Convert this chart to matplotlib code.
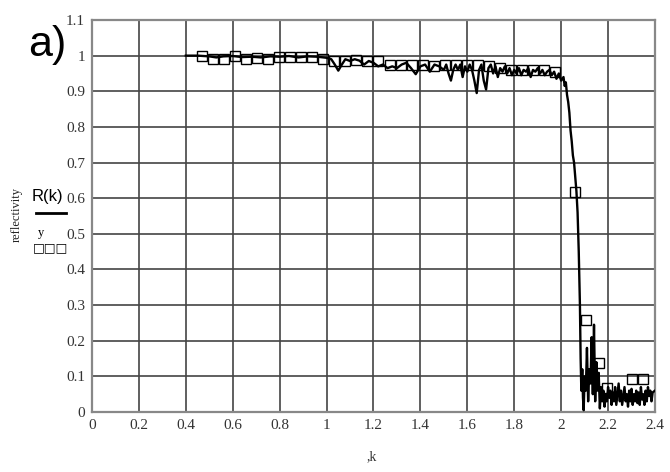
import matplotlib
matplotlib.use('Agg')
import matplotlib.pyplot as plt
import numpy as np

# calculated reflectivity R(k), solid line
k_line = [0.40, 0.45, 0.50, 0.53, 0.56, 0.60, 0.64, 0.68, 0.72, 0.76, 0.80, 0.84,
          0.88, 0.92, 0.96, 1.00, 1.02, 1.035, 1.05, 1.065, 1.08, 1.10, 1.12, 1.14,
          1.16, 1.18, 1.20, 1.22, 1.24, 1.26, 1.28, 1.30, 1.32, 1.34, 1.36, 1.38,
          1.40, 1.42, 1.44, 1.46, 1.48, 1.50, 1.51, 1.52, 1.53, 1.54, 1.55, 1.56,
          1.57, 1.58, 1.59, 1.60, 1.61, 1.62, 1.63, 1.64, 1.65, 1.66, 1.67, 1.68,
          1.69, 1.70, 1.71, 1.72, 1.73, 1.74, 1.75, 1.76, 1.77, 1.78, 1.79, 1.80,
          1.81, 1.82, 1.83, 1.84, 1.85, 1.86, 1.87, 1.88, 1.89, 1.90, 1.91, 1.92,
          1.93, 1.94, 1.95, 1.96, 1.97, 1.98, 1.99, 2.00, 2.01, 2.015, 2.02, 2.025,
          2.03, 2.035, 2.04, 2.045, 2.05, 2.055, 2.06, 2.065, 2.07, 2.075, 2.08,
          2.083, 2.086, 2.09, 2.093, 2.096, 2.10, 2.105, 2.11, 2.115, 2.12, 2.125,
          2.13, 2.135, 2.14, 2.145, 2.15, 2.155, 2.16, 2.165, 2.17, 2.175, 2.18,
          2.185, 2.19, 2.195, 2.20, 2.205, 2.21, 2.215, 2.22, 2.225, 2.23, 2.235,
          2.24, 2.245, 2.25, 2.255, 2.26, 2.265, 2.27, 2.275, 2.28, 2.285, 2.29,
          2.295, 2.30, 2.305, 2.31, 2.315, 2.32, 2.325, 2.33, 2.335, 2.34, 2.345,
          2.35, 2.355, 2.36, 2.365, 2.37, 2.375, 2.38, 2.385, 2.39, 2.40]
r_line = [1.000, 1.000, 0.998, 0.995, 0.998, 0.999, 0.996, 0.997, 0.995, 0.998, 0.997, 0.999,
          0.995, 0.998, 0.997, 0.994, 0.990, 0.975, 0.958, 0.975, 0.990, 0.985, 0.990, 0.986,
          0.975, 0.985, 0.980, 0.970, 0.975, 0.965, 0.970, 0.965, 0.975, 0.980, 0.965, 0.948,
          0.970, 0.975, 0.955, 0.975, 0.970, 0.960, 0.975, 0.950, 0.930, 0.960, 0.975, 0.960,
          0.975, 0.940, 0.970, 0.955, 0.975, 0.960, 0.930, 0.895, 0.960, 0.975, 0.930, 0.905,
          0.965, 0.975, 0.950, 0.970, 0.940, 0.965, 0.955, 0.970, 0.950, 0.965, 0.945, 0.960,
          0.950, 0.965, 0.945, 0.960, 0.955, 0.965, 0.940, 0.960, 0.955, 0.965, 0.950, 0.960,
          0.945, 0.955, 0.960, 0.945, 0.955, 0.935, 0.950, 0.930, 0.940, 0.915, 0.925, 0.890,
          0.870, 0.840, 0.790, 0.760, 0.720, 0.700, 0.660, 0.620, 0.560, 0.450, 0.300,
          0.150, 0.060, 0.120, 0.040, 0.005, 0.100, 0.060, 0.180, 0.030, 0.120, 0.080,
          0.210, 0.050, 0.245, 0.030, 0.140, 0.060, 0.110, 0.010, 0.070, 0.030, 0.060,
          0.015, 0.050, 0.030, 0.070, 0.040, 0.060, 0.020, 0.055, 0.030, 0.070, 0.020,
          0.050, 0.080, 0.030, 0.060, 0.020, 0.045, 0.070, 0.030, 0.050, 0.015, 0.060,
          0.030, 0.065, 0.020, 0.050, 0.030, 0.060, 0.025, 0.055, 0.020, 0.070, 0.035,
          0.050, 0.020, 0.060, 0.030, 0.070, 0.045, 0.060, 0.030, 0.055, 0.060]

# measured points y, open squares
k_sq = [0.468, 0.515, 0.562, 0.609, 0.656, 0.703, 0.751, 0.798, 0.845, 0.892, 0.939,
        0.986, 1.033, 1.080, 1.127, 1.174, 1.221, 1.269, 1.316, 1.363, 1.410, 1.457,
        1.504, 1.551, 1.598, 1.645, 1.692, 1.739, 1.787, 1.834, 1.881, 1.928, 1.975,
        2.058, 2.105, 2.160, 2.196, 2.303, 2.350]
y_sq = [1.000, 0.990, 0.990, 1.000, 0.990, 0.993, 0.990, 0.997, 0.997, 0.997, 0.995,
        0.990, 0.985, 0.985, 0.987, 0.985, 0.985, 0.975, 0.975, 0.975, 0.975, 0.970,
        0.975, 0.975, 0.975, 0.975, 0.970, 0.965, 0.960, 0.960, 0.960, 0.960, 0.955,
        0.617, 0.258, 0.137, 0.067, 0.093, 0.093]

x_ticks = [0, 0.2, 0.4, 0.6, 0.8, 1, 1.2, 1.4, 1.6, 1.8, 2, 2.2, 2.4]
x_labels = ['0', '0.2', '0.4', '0.6', '0.8', '1', '1.2', '1.4', '1.6', '1.8', '2', '2.2', '2.4']
y_ticks = [0, 0.1, 0.2, 0.3, 0.4, 0.5, 0.6, 0.7, 0.8, 0.9, 1, 1.1]
y_labels = ['0', '0.1', '0.2', '0.3', '0.4', '0.5', '0.6', '0.7', '0.8', '0.9', '1', '1.1']

serif = ['Liberation Serif', 'DejaVu Serif']
sans = ['Liberation Sans', 'DejaVu Sans']

fig = plt.figure(figsize=(6.7, 4.72), dpi=100)
ax = fig.add_axes([0.1373, 0.1271, 0.8403, 0.8305])

ax.plot(k_line, r_line, color='black', lw=1.7, zorder=3)
ax.plot(k_sq, y_sq, ls='none', marker='s', ms=6.5, mfc='none', mec='black', mew=1.0, zorder=4)

ax.set_xlim(0, 2.4)
ax.set_ylim(0, 1.1)
ax.set_xticks(x_ticks)
ax.set_xticklabels(x_labels, family=serif, fontsize=11, color='#333333')
ax.set_yticks(y_ticks)
ax.set_yticklabels(y_labels, family=serif, fontsize=11, color='#333333')
ax.tick_params(length=0, pad=5)
ax.grid(True, color='#444444', lw=1.2)
ax.set_axisbelow(True)
for s in ax.spines.values():
    s.set_color('#888888')
    s.set_linewidth(1.6)

# labels in the Mathcad style
fig.text(28 / 670, 1 - 56 / 472, 'a)', family=sans, fontsize=31, ha='left', va='baseline')
fig.text(17 / 670, 1 - 215 / 472, 'reflectivity', family=serif, fontsize=9,
         rotation=90, ha='center', va='center', color='#222222')
fig.text(47 / 670, 1 - 197 / 472, 'R(k)', family=sans, fontsize=12, ha='center', va='center')
fig.add_artist(plt.Line2D([36 / 670, 66 / 670], [1 - 213 / 472, 1 - 213 / 472],
                          color='black', lw=2, transform=fig.transFigure))
fig.text(41 / 670, 1 - 233 / 472, 'y', family=serif, fontsize=9, ha='center', va='center')
fig.text(51 / 670, 1 - 248 / 472, '□□□', family=['DejaVu Sans'], fontsize=9,
         ha='center', va='center')
fig.text(372 / 670, 1 - 457 / 472, ',k', family=serif, fontsize=10, ha='center', va='center',
         color='#333333')

plt.savefig('out.png', dpi=100)
